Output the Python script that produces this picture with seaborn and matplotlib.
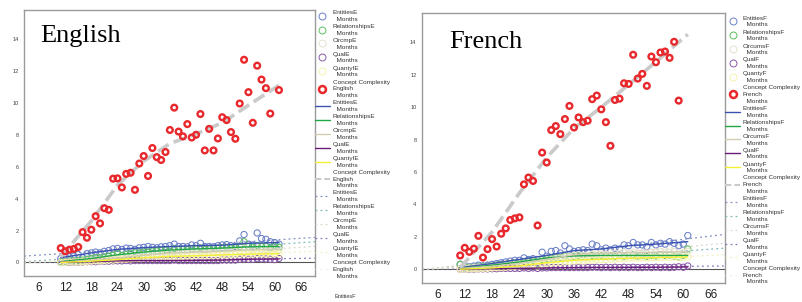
import numpy as np
import pandas as pd
import matplotlib
matplotlib.use("Agg")
import matplotlib.pyplot as plt
from matplotlib.lines import Line2D
import seaborn as sns

# Data
ages = list(range(11, 62))

# English concept complexity (no value at 60)
cc_ages_en = list(range(11, 60)) + [61]
cc_en = [0.90, 0.70, 0.80, 0.85, 0.97, 1.90, 1.55, 2.05, 2.90, 2.45,
         3.40, 3.30, 5.25, 5.27, 4.70, 5.55, 5.62, 4.55, 6.20, 6.67,
         5.42, 7.17, 6.60, 6.42, 6.92, 8.30, 9.70, 8.20, 7.90, 8.67,
         7.83, 8.00, 9.30, 7.02, 8.37, 7.02, 7.77, 9.10, 8.92, 8.17,
         7.75, 9.96, 12.70, 10.67, 8.75, 12.33, 11.46, 10.92, 9.33, 10.80]

ent_en = [0.25, 0.35, 0.35, 0.40, 0.50, 0.30, 0.55, 0.60, 0.65, 0.60,
          0.70, 0.75, 0.85, 0.88, 0.82, 0.90, 0.88, 0.82, 0.92, 0.95,
          1.00, 0.95, 0.92, 0.98, 1.00, 1.05, 1.15, 1.00, 1.00, 0.98,
          1.10, 1.05, 1.20, 1.00, 1.00, 0.98, 1.05, 1.10, 1.12, 1.05,
          1.00, 1.35, 1.75, 1.15, 1.10, 1.85, 1.50, 1.45, 1.30, 1.25,
          1.15]
rel_en = [0.05, 0.05, 0.10, 0.10, 0.12, 0.15, 0.20, 0.25, 0.30, 0.30,
          0.35, 0.40, 0.45, 0.55, 0.45, 0.50, 0.55, 0.60, 0.60, 0.65,
          0.65, 0.70, 0.72, 0.75, 0.78, 0.80, 0.85, 0.80, 0.82, 0.80,
          0.85, 0.85, 0.90, 0.82, 0.85, 0.88, 0.90, 0.92, 0.95, 0.90,
          0.92, 1.00, 1.30, 1.00, 0.95, 1.05, 1.00, 1.00, 0.90, 1.00,
          0.95]
circ_en = [0.00, 0.02, 0.03, 0.05, 0.05, 0.08, 0.10, 0.12, 0.15, 0.18,
           0.20, 0.22, 0.25, 0.30, 0.28, 0.32, 0.35, 0.38, 0.40, 0.42,
           0.45, 0.45, 0.48, 0.50, 0.52, 0.55, 0.58, 0.55, 0.60, 0.58,
           0.60, 0.62, 0.65, 0.60, 0.62, 0.65, 0.68, 0.70, 0.72, 0.68,
           0.70, 0.75, 0.90, 0.78, 0.80, 0.85, 0.82, 0.80, 0.78, 0.85,
           0.80]
qty_en = [0.00, 0.00, 0.02, 0.02, 0.03, 0.05, 0.05, 0.08, 0.10, 0.10,
          0.12, 0.15, 0.15, 0.18, 0.20, 0.20, 0.22, 0.25, 0.25, 0.28,
          0.30, 0.30, 0.32, 0.32, 0.35, 0.35, 0.38, 0.35, 0.38, 0.40,
          0.40, 0.42, 0.42, 0.40, 0.42, 0.45, 0.45, 0.48, 0.45, 0.48,
          0.50, 0.50, 0.55, 0.50, 0.52, 0.55, 0.55, 0.52, 0.50, 0.55,
          0.55]
qual_en = [0.00, 0.00, 0.00, 0.02, 0.02, 0.03, 0.05, 0.05, 0.05, 0.08,
           0.08, 0.08, 0.10, 0.10, 0.10, 0.12, 0.10, 0.12, 0.12, 0.12,
           0.12, 0.12, 0.12, 0.12, 0.12, 0.12, 0.15, 0.12, 0.12, 0.12,
           0.12, 0.12, 0.12, 0.12, 0.12, 0.12, 0.12, 0.15, 0.15, 0.15,
           0.15, 0.20, 0.22, 0.20, 0.20, 0.25, 0.22, 0.22, 0.20, 0.18,
           0.25]

# French concept complexity (ends at 59)
cc_ages_fr = list(range(11, 60))
cc_fr = [0.85, 1.32, 1.07, 1.27, 2.06, 0.72, 1.24, 1.86, 1.40, 2.19,
         2.52, 3.04, 3.14, 3.20, 5.24, 5.66, 5.45, 2.70, 7.20, 6.59,
         8.59, 8.84, 8.34, 9.27, 10.08, 8.75, 9.37, 9.08, 9.17, 10.50,
         10.72, 9.87, 9.08, 7.62, 10.45, 10.53, 11.48, 11.44, 13.24, 11.77,
         12.06, 11.32, 13.13, 12.78, 13.38, 13.44, 13.05, 14.04, 10.41]

ent_fr = [0.30, 0.20, 0.15, 0.20, 0.25, 0.20, 0.25, 0.30, 0.35, 0.40,
          0.45, 0.50, 0.55, 0.55, 0.70, 0.60, 0.65, 0.40, 1.05, 0.80,
          1.10, 1.15, 1.00, 1.45, 1.25, 1.10, 1.15, 1.20, 1.15, 1.55,
          1.45, 1.20, 1.30, 1.20, 1.30, 1.25, 1.50, 1.45, 1.65, 1.50,
          1.50, 1.40, 1.65, 1.50, 1.60, 1.55, 1.70, 1.60, 1.45, 1.55,
          2.08]
rel_fr = [0.30, 0.15, 0.10, 0.12, 0.15, 0.15, 0.18, 0.20, 0.25, 0.28,
          0.30, 0.35, 0.38, 0.40, 0.45, 0.50, 0.52, 0.35, 0.60, 0.65,
          0.70, 0.75, 0.72, 0.80, 0.78, 0.80, 0.82, 0.80, 0.78, 0.85,
          0.82, 0.85, 0.80, 0.82, 0.78, 0.85, 0.80, 0.85, 0.88, 0.82,
          0.85, 0.80, 0.85, 0.82, 0.90, 0.85, 0.88, 0.80, 0.75, 0.85,
          1.25]
circ_fr = [0.05, 0.05, 0.08, 0.10, 0.12, 0.12, 0.15, 0.18, 0.20, 0.22,
           0.25, 0.28, 0.30, 0.32, 0.35, 0.38, 0.40, 0.30, 0.50, 0.55,
           0.60, 0.65, 0.68, 0.75, 0.80, 0.85, 0.90, 0.85, 0.88, 0.92,
           0.95, 0.95, 0.92, 0.98, 1.00, 0.95, 1.05, 1.00, 1.05, 1.00,
           1.02, 1.00, 1.05, 1.05, 1.10, 1.00, 1.05, 1.08, 1.00, 1.05,
           1.10]
qty_fr = [0.00, 0.00, 0.02, 0.02, 0.03, 0.05, 0.05, 0.08, 0.10, 0.10,
          0.12, 0.15, 0.18, 0.20, 0.22, 0.25, 0.28, 0.20, 0.30, 0.35,
          0.38, 0.40, 0.42, 0.45, 0.48, 0.50, 0.52, 0.50, 0.55, 0.55,
          0.58, 0.60, 0.60, 0.62, 0.62, 0.65, 0.65, 0.68, 0.70, 0.68,
          0.70, 0.70, 0.72, 0.70, 0.72, 0.75, 0.72, 0.75, 0.70, 0.72,
          0.75]
qual_fr = [0.00, 0.00, 0.00, 0.00, 0.02, 0.02, 0.02, 0.03, 0.03, 0.05,
           0.05, 0.05, 0.05, 0.05, 0.08, 0.05, 0.08, 0.05, 0.08, 0.08,
           0.10, 0.10, 0.10, 0.10, 0.10, 0.10, 0.10, 0.10, 0.10, 0.12,
           0.12, 0.10, 0.12, 0.10, 0.12, 0.10, 0.12, 0.10, 0.12, 0.10,
           0.10, 0.12, 0.10, 0.12, 0.10, 0.12, 0.10, 0.12, 0.15, 0.12,
           0.20]

# smoothed (loess) curves
fit_x = [11, 18, 24, 30, 36, 42, 48, 54, 61]
cc_fit_en = [0.35, 2.6, 4.85, 6.35, 7.45, 8.05, 8.75, 9.85, 11.1]
ent_fit_en = [0.30, 0.60, 0.82, 0.93, 1.00, 1.05, 1.08, 1.20, 1.25]
rel_fit_en = [0.05, 0.25, 0.48, 0.65, 0.78, 0.85, 0.90, 0.98, 1.00]
circ_fit_en = [0.02, 0.12, 0.28, 0.45, 0.58, 0.65, 0.70, 0.80, 0.82]
qty_fit_en = [0.00, 0.08, 0.18, 0.30, 0.38, 0.42, 0.47, 0.52, 0.55]
qual_fit_en = [0.00, 0.05, 0.10, 0.12, 0.12, 0.13, 0.15, 0.20, 0.22]

cc_fit_fr = [0.10, 2.3, 4.7, 6.9, 8.7, 10.0, 11.4, 12.8, 14.5]
ent_fit_fr = [0.10, 0.35, 0.60, 0.85, 1.15, 1.25, 1.45, 1.55, 1.70]
rel_fit_fr = [0.05, 0.25, 0.45, 0.70, 0.82, 0.85, 0.85, 0.85, 0.85]
circ_fit_fr = [0.05, 0.18, 0.35, 0.60, 0.90, 1.00, 1.02, 1.05, 1.08]
qty_fit_fr = [0.00, 0.08, 0.20, 0.40, 0.55, 0.62, 0.68, 0.72, 0.75]
qual_fit_fr = [0.00, 0.03, 0.05, 0.08, 0.10, 0.11, 0.11, 0.12, 0.14]

# linear fits (dotted), across the whole axis
lin_x = [2.6, 69.2]
lin_en = {"ent": [0.40, 1.57], "rel": [0.05, 1.30], "circ": [-0.05, 1.00],
          "qty": [0.00, 0.70], "qual": [0.00, 0.27]}
lin_fr = {"ent": [-0.05, 2.15], "rel": [0.00, 1.30], "circ": [0.00, 1.60],
          "qty": [0.00, 0.90], "qual": [0.00, 0.20]}

x_ticks = [6, 12, 18, 24, 30, 36, 42, 48, 54, 60, 66]
y_ticks = [0, 2, 4, 6, 8, 10, 12, 14]

# colours
pt_col = {"ent": "#6a7fc8", "rel": "#5cc060", "circ": "#e6e0cc", "qual": "#8a5aa8",
          "qty": "#f6f2b0"}
ln_col = {"ent": "#3a52b0", "rel": "#22a648", "circ": "#d2ccb0", "qual": "#6a1a78",
          "qty": "#f2f030"}
dot_col = {"ent": "#8090c0", "rel": "#80b8b8", "circ": "#d8d8c8", "qual": "#8080c0",
           "qty": "#f0f0c0"}
red = "#e8282c"
grey = "#cacaca"

sns.set_style("white")
plt.rcParams['font.family'] = ['Liberation Sans', 'DejaVu Sans']

fig = plt.figure(figsize=(8.03, 3.02), dpi=100)
ax_en = fig.add_axes([0.030, 0.086, 0.362, 0.881])
ax_fr = fig.add_axes([0.5255, 0.063, 0.3775, 0.894])


def draw_panel(ax, series, cc_ages, cc_vals, fits, cc_fit, lins, suffix, lang, title_pos, legend_anchor):
    keys = ["ent", "rel", "circ", "qual", "qty"]
    ax.axhline(0, color="#555555", lw=0.8, zorder=1)
    for k in keys:
        sns.lineplot(x=lin_x, y=lins[k], ax=ax, color=dot_col[k], lw=0.9,
                     linestyle=(0, (1.5, 2.5)), zorder=2)
    for k in keys:
        sns.scatterplot(x=ages, y=series[k], ax=ax, marker="o", s=20,
                        facecolor="none", edgecolor=pt_col[k], linewidth=0.75, zorder=3)
    for k in keys:
        sns.lineplot(x=fit_x, y=fits[k], ax=ax, color=ln_col[k], lw=1.0, zorder=4)
    sns.lineplot(x=fit_x, y=cc_fit, ax=ax, color=grey, lw=2.6,
                 linestyle=(0, (3.5, 1.5)), zorder=5)
    sns.scatterplot(x=cc_ages, y=cc_vals, ax=ax, marker="o", s=17,
                    facecolor="none", edgecolor=red, linewidth=1.7, zorder=6)

    ax.set_xlim(2.6, 69.2)
    ax.set_ylim(-0.85, 15.82)
    ax.set_xticks(x_ticks)
    ax.set_yticks(y_ticks)
    ax.tick_params(axis="x", labelsize=8.5, length=3, width=0.6, pad=1, colors="#222222")
    ax.tick_params(axis="y", labelsize=4, length=3, width=0.6, pad=1, colors="#444444")
    ax.set_xlabel("")
    ax.set_ylabel("")
    for sp in ax.spines.values():
        sp.set_color("#9a9a9a")
        sp.set_linewidth(1.0)
    ax.text(title_pos[0], title_pos[1], lang, transform=ax.transAxes,
            fontsize=19, family="Liberation Serif", color="black")

    names = ["Entities", "Relationships", "Circmp" if suffix == "E" else "Circums",
             "Qual", "QuantyI" if suffix == "E" else "Quanty"]
    labs = [n + suffix + "\n  Months" for n in names]
    cc_lab = "Concept Complexity\n" + lang + "\n  Months"
    handles, labels = [], []
    for k, lab in zip(keys, labs):
        handles.append(Line2D([], [], ls="none", marker="o", ms=5, mfc="none",
                              mec=pt_col[k], mew=0.7))
        labels.append(lab)
    handles.append(Line2D([], [], ls="none", marker="o", ms=5, mfc="none", mec=red, mew=1.8))
    labels.append(cc_lab)
    for k, lab in zip(keys, labs):
        handles.append(Line2D([], [], color=ln_col[k], lw=1.0))
        labels.append(lab)
    handles.append(Line2D([], [], color=grey, lw=1.5, ls=(0, (3, 1.5))))
    labels.append(cc_lab)
    for k, lab in zip(keys, labs):
        handles.append(Line2D([], [], color=dot_col[k], lw=0.9, ls=(0, (1.5, 2.5))))
        labels.append(lab)
    handles.append(Line2D([], [], color="#eeeeee", lw=0.9, ls=(0, (1.5, 2.5))))
    labels.append(cc_lab)
    leg = ax.legend(handles, labels, loc="upper left", bbox_to_anchor=legend_anchor,
                    frameon=False, fontsize=4.6, handlelength=2.4, handletextpad=0.4,
                    labelspacing=0.33, borderaxespad=0, borderpad=0)
    for t in leg.get_texts():
        t.set_color("#333333")
        t.set_linespacing(1.45)


draw_panel(ax_en,
           {"ent": ent_en, "rel": rel_en, "circ": circ_en, "qual": qual_en, "qty": qty_en},
           cc_ages_en, cc_en,
           {"ent": ent_fit_en, "rel": rel_fit_en, "circ": circ_fit_en, "qual": qual_fit_en,
            "qty": qty_fit_en},
           cc_fit_en, lin_en, "E", "English", (0.055, 0.88), (1.0, 1.0))
draw_panel(ax_fr,
           {"ent": ent_fr, "rel": rel_fr, "circ": circ_fr, "qual": qual_fr, "qty": qty_fr},
           cc_ages_fr, cc_fr,
           {"ent": ent_fit_fr, "rel": rel_fit_fr, "circ": circ_fit_fr, "qual": qual_fit_fr,
            "qty": qty_fit_fr},
           cc_fit_fr, lin_fr, "F", "French", (0.09, 0.87), (1.0, 0.99))

fig.text(0.43, 0.012, "EntitiesF", fontsize=4, color="#333333", ha="center")

fig.savefig("out.png", dpi=100)
